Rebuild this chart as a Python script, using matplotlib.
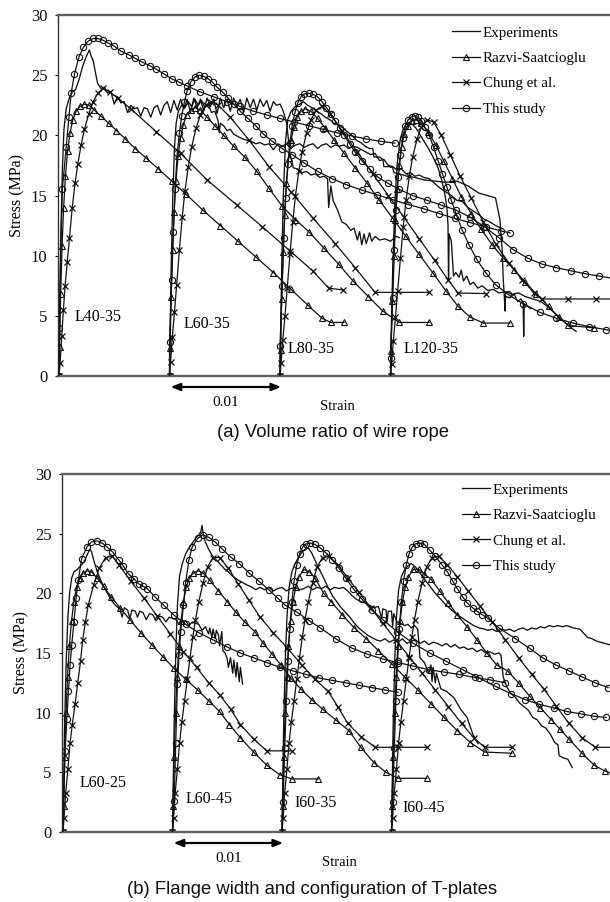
import numpy as np
import matplotlib
matplotlib.use("Agg")
import matplotlib.pyplot as plt
from matplotlib.lines import Line2D
import matplotlib.transforms as mtransforms

# ---------------- DATA (local strain in 1e-3, stress in MPa) ----------------
offsets_ms = [0, 10, 20, 30]
top_names = ["L40-35", "L60-35", "L80-35", "L120-35"]
bot_names = ["L60-25", "L60-45", "I60-35", "I60-45"]
yticks = [0, 5, 10, 15, 20, 25, 30]
legend_names = ["Experiments", "Razvi-Saatcioglu", "Chung et al.", "This study"]

# ---- panel (a) ----
L40_exp_x = [0, 0.05, 0.15, 0.3, 0.45, 0.65, 0.9, 1.2, 1.5, 1.8, 2.1, 2.4, 2.75, 2.9, 3.1, 3.3, 3.5, 3.8, 4.1, 4.4, 4.7, 5.0, 5.3, 5.6, 5.9, 6.2, 6.5, 6.8, 7.1, 7.4, 7.7, 8.0, 8.3, 8.6, 8.9, 9.2, 9.5, 9.8, 10.1, 10.4, 10.7, 11.0, 11.3, 11.6, 11.9, 12.2, 12.5, 12.8, 13.1, 13.4, 13.7, 14.0, 14.3, 14.6, 14.9, 15.2, 15.5, 15.8, 16.1, 16.4, 16.7, 17.0, 17.3, 17.6, 17.9, 18.2, 18.5, 18.8, 19.1, 19.4, 19.7, 20.0, 20.3, 20.6, 20.9, 21.2, 21.6, 22.0, 22.4, 22.8, 23.2, 23.6, 24.0, 24.3, 24.4, 24.6, 24.8, 25.2, 25.6, 26.0, 26.4, 26.7, 27.0, 27.2, 27.4, 27.6, 27.8, 28.1, 28.3, 28.6, 29.0, 29.5, 30.0, 30.5, 30.8]
L40_exp_y = [0, 4, 11, 17, 20.5, 22.2, 23.0, 23.6, 23.8, 24.6, 25.6, 26.4, 27.1, 26.6, 26.2, 25.2, 24.3, 23.9, 24.0, 23.5, 23.6, 22.6, 23.2, 22.7, 22.8, 21.9, 22.5, 22.2, 22.3, 21.6, 22.3, 22.2, 21.5, 22.3, 22.5, 21.7, 22.5, 22.8, 21.9, 22.9, 22.1, 23.0, 22.2, 23.0, 21.9, 23.1, 22.3, 23.0, 22.0, 23.1, 22.4, 23.0, 21.8, 23.1, 22.3, 23.0, 22.0, 23.1, 22.4, 23.0, 21.9, 23.1, 22.3, 23.0, 22.1, 23.0, 22.4, 22.9, 22.0, 22.8, 22.5, 22.6, 22.0, 21.0, 18.5, 17.3, 17.2, 16.9, 17.0, 16.7, 16.8, 16.5, 16.6, 16.4, 14.0, 15.8, 14.6, 13.8, 12.8, 12.6, 12.1, 12.3, 11.3, 12.0, 10.9, 11.8, 11.0, 11.9, 11.2, 11.6, 11.3, 11.4, 11.2, 11.6, 11.5]
L40_raz_x = [0, 0.05, 0.15, 0.28, 0.42, 0.58, 0.78, 1.0, 1.25, 1.55, 1.9, 2.3, 2.7, 3.2, 3.8, 4.5, 5.2, 6.0, 6.9, 7.9, 9.0, 10.2, 11.5, 13.0, 14.6, 16.2, 17.8, 19.4, 21.0, 22.5, 23.8, 24.6, 25.8]
L40_raz_y = [0, 2.4, 6.8, 10.8, 14.0, 16.6, 18.7, 20.2, 21.3, 22.0, 22.4, 22.6, 22.5, 22.1, 21.6, 21.0, 20.4, 19.7, 18.9, 18.1, 17.2, 16.2, 15.1, 13.8, 12.5, 11.2, 9.9, 8.6, 7.2, 5.9, 4.8, 4.45, 4.45]
L40_chu_x = [0, 0.1, 0.25, 0.4, 0.55, 0.75, 0.95, 1.2, 1.45, 1.7, 2.0, 2.3, 2.7, 3.1, 3.5, 4.0, 4.6, 5.3, 6.5, 8.8, 11.0, 13.4, 16.1, 18.4, 20.9, 23.0, 24.4, 25.7]
L40_chu_y = [0, 1.1, 3.3, 5.5, 7.5, 9.5, 11.5, 14.0, 16.0, 17.6, 19.2, 20.5, 21.8, 22.8, 23.5, 23.9, 23.6, 23.1, 22.2, 20.3, 18.5, 16.3, 14.2, 12.4, 10.4, 8.7, 7.3, 7.15]
L40_our_x = [0, 0.0, 0.3, 0.65, 0.9, 1.1, 1.4, 1.8, 2.2, 2.6, 3.1, 3.5, 4.0, 4.4, 5.0, 5.6, 6.3, 6.9, 7.5, 8.2, 8.8, 9.5, 10.2, 10.9, 11.6, 12.8, 14.0, 15.2, 16.4, 17.6, 18.8, 20.0, 21.3, 22.6, 23.9, 25.2, 26.5, 27.8, 29.1, 30.4]
L40_our_y = [0, 4.0, 15.5, 19.0, 21.5, 23.5, 25.1, 26.5, 27.3, 27.8, 28.05, 28.05, 27.9, 27.7, 27.4, 27.0, 26.7, 26.4, 26.1, 25.8, 25.5, 25.1, 24.7, 24.4, 24.1, 23.6, 23.2, 22.8, 22.4, 22.0, 21.7, 21.4, 21.1, 20.8, 20.5, 20.2, 19.95, 19.7, 19.5, 19.35]

L60a_exp_x = [0, 0.05, 0.15, 0.3, 0.45, 0.6, 0.8, 1.1, 1.4, 1.7, 2.0, 2.3, 2.6, 2.9, 3.2, 3.5, 3.8, 4.1, 4.4, 4.5, 4.6, 4.9, 5.2, 5.5, 5.8, 6.2, 6.6, 7.0, 7.4, 7.8, 8.2, 8.6, 9.0, 9.4, 9.8, 10.2, 10.6, 11.0, 11.4, 11.8, 12.2, 12.6, 13.0, 13.4, 13.8, 14.2, 14.6, 15.0, 15.4, 15.8, 16.2, 16.6, 17.0, 17.4, 17.8, 18.2, 18.6, 19.0, 19.4, 19.8, 20.2, 20.6, 21.0, 21.4, 21.8, 22.2, 22.6, 23.0, 23.5, 24.0, 24.5, 25.0, 25.5, 26.0, 26.5, 27.0, 27.5, 28.0, 28.5, 29.0, 29.5, 30.0]
L60a_exp_y = [0, 3, 9, 15, 19, 21, 22, 22.5, 22.3, 22.8, 22.4, 23.0, 22.5, 22.9, 22.3, 22.6, 21.9, 22.0, 21.2, 20.2, 21.0, 20.8, 20.4, 20.5, 20.1, 19.9, 19.7, 19.6, 19.5, 19.3, 19.4, 19.2, 19.3, 18.8, 19.3, 19.1, 19.3, 18.9, 19.2, 19.3, 19.0, 19.2, 19.3, 18.9, 19.2, 19.3, 19.0, 19.2, 19.1, 19.2, 18.9, 19.1, 19.0, 18.8, 18.6, 18.4, 18.5, 17.9, 18.0, 17.5, 17.4, 17.1, 17.2, 16.8, 16.9, 16.6, 16.7, 16.5, 16.4, 16.0, 15.6, 15.3, 15.0, 14.6, 14.5, 14.0, 13.7, 13.4, 13.0, 12.8, 12.5, 12.3]
L60a_raz_x = [0, 0.05, 0.15, 0.28, 0.42, 0.58, 0.78, 1.0, 1.25, 1.55, 1.9, 2.3, 2.8, 3.4, 4.1, 4.9, 5.8, 6.8, 7.9, 9.0, 10.2, 11.4, 12.6, 14.0, 15.3, 16.6, 18.0, 19.3, 20.8, 23.5]
L60a_raz_y = [0, 2.3, 6.6, 10.5, 13.6, 16.2, 18.3, 19.8, 20.9, 21.7, 22.1, 22.3, 22.1, 21.5, 20.8, 20.0, 19.1, 18.2, 17.0, 15.6, 14.1, 13.0, 12.0, 10.6, 9.3, 7.9, 6.6, 5.4, 4.45, 4.45]
L60a_chu_x = [0, 0.1, 0.25, 0.45, 0.65, 0.9, 1.15, 1.4, 1.7, 2.0, 2.4, 2.8, 3.3, 3.8, 4.4, 5.5, 7.2, 9.0, 11.0, 13.0, 15.0, 16.8, 18.6, 23.5]
L60a_chu_y = [0, 1.2, 3.2, 5.3, 7.6, 10.5, 13.2, 15.4, 17.4, 19.0, 20.6, 21.7, 22.5, 22.8, 22.5, 21.5, 19.6, 17.4, 15.3, 13.1, 11.0, 9.0, 6.95, 6.95]
L60a_our_x = [0, 0.0, 0.2, 0.35, 0.5, 0.7, 0.9, 1.1, 1.35, 1.6, 1.9, 2.3, 2.7, 3.1, 3.5, 3.9, 4.3, 4.8, 5.3, 5.8, 6.4, 7.1, 7.8, 8.5, 9.3, 10.2, 11.1, 12.2, 13.4, 14.7, 16.0, 17.4, 18.8, 20.2, 21.6, 23.0, 24.4, 25.8, 27.2, 28.6, 30.0, 30.8]
L60a_our_y = [0, 2.8, 8.0, 12.0, 15.5, 18.5, 20.2, 21.6, 22.8, 23.7, 24.4, 24.85, 25.0, 24.9, 24.7, 24.4, 24.0, 23.6, 23.1, 22.6, 22.0, 21.4, 20.8, 20.1, 19.5, 18.9, 18.4, 17.7, 17.0, 16.4, 15.9, 15.45, 15.05, 14.65, 14.25, 13.9, 13.5, 13.1, 12.75, 12.4, 12.05, 11.9]

L80_exp_x = [0, 0.05, 0.15, 0.3, 0.5, 0.7, 1.0, 1.4, 1.8, 2.1, 2.5, 2.9, 3.3, 3.7, 4.1, 4.5, 4.9, 5.3, 5.7, 6.1, 6.5, 6.9, 7.3, 7.7, 8.1, 8.4, 8.5, 9.0, 9.3, 9.4, 9.9, 10.2, 10.3, 10.8, 11.5, 12.2, 13.0, 14.0, 15.0, 16.0, 17.0, 18.0, 19.5, 19.9, 20.1, 20.2, 20.3, 20.35, 20.4, 20.8, 21.2, 21.5, 21.8, 22.0, 22.05, 22.1, 22.4, 22.7]
L80_exp_y = [0, 3, 9, 15, 19.5, 21.3, 22.0, 22.4, 22.6, 22.8, 22.5, 22.3, 22.0, 21.8, 21.5, 21.3, 21.0, 20.9, 20.6, 20.3, 20.0, 19.6, 19.4, 19.1, 18.9, 18.9, 18.2, 18.2, 18.0, 17.4, 17.4, 17.3, 16.9, 16.8, 16.6, 16.5, 16.3, 16.2, 16.1, 16.2, 15.8, 15.2, 14.8, 13.0, 10.5, 8.0, 6.6, 5.4, 6.6, 6.5, 6.8, 6.2, 6.4, 6.1, 3.3, 6.0, 5.8, 5.6]
L80_raz_x = [0, 0.05, 0.15, 0.28, 0.42, 0.58, 0.78, 1.0, 1.25, 1.55, 1.9, 2.3, 2.8, 3.4, 4.1, 4.9, 5.8, 6.8, 7.9, 9.0, 10.2, 11.4, 12.6, 13.8, 15.0, 16.1, 17.2, 18.4, 20.8]
L80_raz_y = [0, 2.2, 6.4, 10.3, 13.4, 16.0, 18.1, 19.6, 20.7, 21.5, 22.0, 22.2, 22.0, 21.4, 20.6, 19.6, 18.5, 17.3, 16.0, 14.6, 13.1, 11.6, 10.1, 8.6, 7.1, 5.8, 4.9, 4.4, 4.4]
L80_chu_x = [0, 0.1, 0.25, 0.45, 0.65, 0.9, 1.15, 1.4, 1.7, 2.0, 2.4, 2.8, 3.3, 3.8, 4.5, 5.6, 7.0, 8.4, 9.8, 11.2, 12.6, 14.0, 15.2, 16.1, 18.6]
L80_chu_y = [0, 1.1, 3.0, 5.0, 7.3, 10.1, 12.8, 15.0, 17.0, 18.6, 20.2, 21.3, 22.1, 22.4, 21.8, 20.4, 18.6, 16.8, 15.0, 13.2, 11.4, 9.6, 8.0, 6.9, 6.85]
L80_our_x = [0, 0.0, 0.2, 0.35, 0.5, 0.7, 0.9, 1.1, 1.35, 1.6, 1.9, 2.2, 2.6, 3.0, 3.4, 3.8, 4.2, 4.6, 5.0, 5.4, 5.8, 6.3, 6.8, 7.4, 8.1, 8.9, 9.8, 10.8, 12.0, 13.3, 14.6, 15.9, 17.2, 18.5, 19.8, 21.1, 22.4, 23.7, 25.0, 26.3, 27.6, 28.9, 30.2]
L80_our_y = [0, 2.5, 7.5, 11.5, 14.8, 17.6, 19.4, 20.8, 21.9, 22.7, 23.2, 23.45, 23.5, 23.4, 23.2, 22.8, 22.3, 21.8, 21.2, 20.6, 20.0, 19.3, 18.6, 17.9, 17.2, 16.5, 16.0, 15.5, 15.0, 14.6, 14.2, 13.8, 13.2, 12.4, 11.5, 10.5, 9.8, 9.3, 9.0, 8.75, 8.5, 8.3, 8.1]

L120_exp_x = [0, 0.05, 0.2, 0.4, 0.6, 0.85, 1.1, 1.4, 1.7, 2.0, 2.3, 2.7, 3.1, 3.5, 3.9, 4.3, 4.6, 4.9, 5.1, 5.2, 5.25, 5.3, 5.5, 5.7, 5.9, 6.2, 6.4, 6.6, 6.9, 7.2, 7.5, 7.9, 8.3, 8.8, 9.3, 9.8, 10.4, 11.0, 11.6, 12.2, 12.9, 13.6, 14.3, 15.0, 15.6, 16.2, 16.8]
L120_exp_y = [0, 3, 9, 14.5, 17.6, 19.5, 20.4, 20.9, 21.1, 20.9, 20.6, 20.0, 19.4, 18.8, 18.1, 17.3, 16.4, 15.2, 14.0, 12.6, 8.0, 11.8, 11.2, 8.3, 8.6, 8.2, 8.8, 7.9, 8.3, 7.6, 7.8, 7.3, 7.5, 7.1, 7.2, 6.9, 7.0, 6.8, 6.9, 6.6, 6.4, 6.2, 5.7, 5.1, 4.6, 4.1, 3.7]
L120_raz_x = [0, 0.05, 0.15, 0.28, 0.42, 0.58, 0.78, 1.0, 1.25, 1.55, 1.9, 2.3, 2.8, 3.4, 4.1, 4.8, 5.6, 6.4, 7.3, 8.2, 9.2, 10.2, 11.2, 12.2, 13.2, 14.3, 15.2, 16.1, 18.4]
L120_raz_y = [0, 2.1, 6.2, 10.0, 13.0, 15.5, 17.5, 19.0, 20.1, 20.8, 21.2, 21.3, 21.0, 20.3, 19.2, 17.9, 16.4, 14.9, 13.5, 12.2, 10.9, 9.8, 8.8, 7.8, 6.8, 5.8, 4.9, 4.2, 4.0]
L120_chu_x = [0, 0.1, 0.25, 0.45, 0.65, 0.9, 1.15, 1.4, 1.7, 2.0, 2.4, 2.8, 3.3, 3.9, 4.6, 5.4, 6.3, 7.3, 8.4, 9.5, 10.7, 11.9, 13.0, 13.7, 16.1, 18.6, 20.2]
L120_chu_y = [0, 1.0, 2.9, 4.9, 7.1, 9.8, 12.4, 14.6, 16.6, 18.2, 19.7, 20.7, 21.3, 21.1, 20.0, 18.4, 16.6, 14.8, 12.8, 11.0, 9.4, 8.0, 6.9, 6.4, 6.4, 6.4, 6.4]
L120_our_x = [0, 0.0, 0.2, 0.35, 0.5, 0.7, 0.9, 1.1, 1.35, 1.6, 1.9, 2.2, 2.5, 2.8, 3.1, 3.5, 3.9, 4.3, 4.7, 5.1, 5.5, 6.0, 6.5, 7.1, 7.8, 8.6, 9.5, 10.6, 12.0, 13.5, 15.0, 16.5, 18.0, 19.5, 20.5]
L120_our_y = [0, 1.5, 6.5, 10.5, 13.8, 16.5, 18.4, 19.8, 20.8, 21.3, 21.55, 21.6, 21.5, 21.2, 20.7, 20.0, 19.0, 17.9, 16.8, 15.7, 14.6, 13.3, 12.1, 10.9, 9.7, 8.6, 7.6, 6.8, 6.0, 5.3, 4.8, 4.4, 4.1, 3.85, 3.7]

# ---- panel (b) ----
L25_exp_x = [0, 0.05, 0.15, 0.3, 0.45, 0.6, 0.8, 1.0, 1.3, 1.6, 1.9, 2.2, 2.45, 2.6, 2.8, 3.1, 3.4, 3.7, 4.0, 4.3, 4.6, 4.9, 5.2, 5.4, 5.6, 5.9, 6.1, 6.3, 6.6, 6.8, 7.0, 7.3, 7.6, 7.9, 8.2, 8.5, 8.8, 9.1, 9.4, 9.7, 10.0, 10.3, 10.6, 10.9, 11.2, 11.5, 11.8, 12.1, 12.4, 12.7, 13.0, 13.3, 13.4, 13.6, 13.7, 13.9, 14.0, 14.2, 14.3, 14.5, 14.6, 14.8, 15.0, 15.1, 15.3, 15.5, 15.6, 15.8, 15.9, 16.1, 16.2, 16.4]
L25_exp_y = [0, 3, 9, 14.5, 18, 20, 21.3, 21.8, 22.0, 22.3, 22.6, 23.2, 23.7, 23.5, 22.8, 21.9, 21.2, 20.6, 20.1, 19.6, 19.2, 18.9, 18.7, 18.0, 18.8, 18.6, 17.9, 18.6, 18.5, 18.0, 18.5, 18.4, 17.8, 18.3, 18.2, 17.7, 18.1, 18.0, 17.6, 18.0, 17.9, 17.8, 17.4, 17.7, 17.7, 17.3, 17.6, 17.5, 17.4, 16.9, 17.2, 16.6, 17.1, 16.3, 17.0, 16.2, 16.9, 16.5, 15.6, 16.8, 15.2, 15.0, 14.5, 13.8, 14.6, 13.3, 14.4, 13.0, 14.2, 12.6, 13.8, 12.4]
L25_raz_x = [0, 0.05, 0.15, 0.28, 0.42, 0.58, 0.78, 1.0, 1.25, 1.55, 1.85, 2.2, 2.6, 3.1, 3.7, 4.4, 5.2, 6.1, 7.1, 8.1, 9.1, 10.1, 11.2, 12.3, 13.3, 14.3, 15.2, 16.2, 17.4, 18.6, 19.8, 20.9, 23.3]
L25_raz_y = [0, 2.2, 6.3, 10.0, 13.0, 15.6, 17.7, 19.3, 20.5, 21.3, 21.7, 21.9, 21.8, 21.3, 20.6, 19.7, 18.8, 17.8, 16.7, 15.7, 14.7, 13.75, 12.8, 11.9, 11.0, 10.1, 9.0, 7.9, 6.7, 5.6, 4.8, 4.45, 4.45]
L25_chu_x = [0, 0.1, 0.25, 0.45, 0.65, 0.85, 1.1, 1.35, 1.6, 1.8, 2.05, 2.3, 2.8, 3.3, 3.9, 4.5, 5.1, 6.2, 7.4, 8.6, 9.8, 11.0, 12.2, 13.3, 14.3, 15.3, 16.2, 17.4, 18.6, 20.9]
L25_chu_y = [0, 1.2, 3.3, 5.3, 7.5, 9.0, 10.7, 12.5, 14.3, 16.1, 17.6, 19.0, 20.7, 22.1, 23.0, 23.1, 22.4, 21.0, 19.6, 18.1, 16.6, 15.1, 13.8, 12.5, 11.5, 10.3, 9.0, 7.8, 6.8, 6.8]
L25_our_x = [0, 0.06, 0.2, 0.35, 0.5, 0.65, 0.8, 1.0, 1.2, 1.4, 1.7, 2.2, 2.6, 3.1, 3.6, 4.0, 4.5, 5.1, 5.5, 6.0, 6.5, 6.9, 7.3, 7.7, 8.4, 9.2, 10.1, 11.2, 12.4, 13.7, 15.0, 16.2, 17.4, 18.6, 19.8, 21.0, 22.2, 23.4, 24.6, 25.8, 27.0, 28.2, 29.4, 30.6]
L25_our_y = [0, 2.8, 6.8, 9.5, 11.8, 14.0, 15.7, 17.6, 19.6, 21.1, 22.9, 23.9, 24.3, 24.4, 24.2, 23.9, 23.5, 22.8, 22.3, 21.6, 21.2, 20.8, 20.6, 20.4, 19.7, 19.0, 18.2, 17.4, 16.7, 16.1, 15.5, 15.0, 14.6, 14.2, 13.8, 13.5, 13.2, 12.9, 12.7, 12.5, 12.3, 12.1, 11.9, 11.7]

L45_exp_x = [0, 0.05, 0.15, 0.3, 0.45, 0.65, 0.9, 1.2, 1.5, 1.8, 2.1, 2.4, 2.6, 2.7, 2.8, 3.0, 3.3, 3.6, 3.9, 4.2, 4.5, 4.8, 5.1, 5.4, 5.7, 6.0, 6.4, 6.8, 7.2, 7.6, 8.0, 8.4, 8.8, 9.2, 9.6, 10.0, 10.4, 10.8, 11.2, 11.6, 12.0, 12.4, 12.8, 13.2, 13.6, 14.0, 14.4, 14.8, 15.2, 15.6, 16.0, 16.4, 16.8, 17.2, 17.6, 18.0, 18.4, 18.8, 19.1, 19.2, 19.5, 19.6, 19.7, 20.0, 20.1, 20.2, 20.5, 20.8, 21.2, 21.5, 21.8, 22.1, 22.4, 22.6, 23.0, 23.4, 23.6, 23.7, 23.8, 24.0, 24.1, 24.5, 25.0, 25.7, 26.3, 26.9, 27.4, 27.9]
L45_exp_y = [0, 3, 9, 15, 19, 21.5, 22.5, 23.3, 23.8, 24.2, 24.6, 24.9, 25.2, 25.7, 25.0, 24.3, 23.7, 23.2, 22.9, 22.6, 22.3, 22.0, 21.8, 21.5, 21.3, 21.1, 20.9, 20.7, 20.55, 20.3, 20.5, 20.3, 20.5, 20.2, 20.4, 20.5, 20.2, 20.4, 20.5, 20.3, 20.4, 20.6, 20.3, 20.5, 20.4, 20.6, 20.3, 20.5, 20.4, 20.5, 20.2, 19.8, 19.5, 19.3, 19.2, 19.0, 18.8, 18.9, 17.9, 18.7, 18.6, 17.6, 18.5, 18.5, 17.2, 18.3, 17.6, 17.5, 17.3, 17.4, 17.1, 17.3, 17.0, 14.6, 14.2, 13.3, 14.0, 12.6, 13.8, 12.5, 13.3, 12.0, 11.8, 11.25, 10.3, 9.6, 8.25, 7.4]
L45_raz_x = [0, 0.05, 0.15, 0.28, 0.42, 0.58, 0.78, 1.0, 1.25, 1.55, 1.9, 2.3, 2.8, 3.4, 4.2, 5.0, 5.8, 6.6, 7.5, 8.3, 9.1, 9.9, 10.8, 11.7, 12.7, 13.7, 14.9, 16.1, 17.2, 18.4, 19.5, 20.6, 23.2]
L45_raz_y = [0, 2.2, 6.3, 10.0, 13.0, 15.6, 17.7, 19.3, 20.5, 21.3, 21.7, 21.9, 21.7, 21.1, 20.2, 19.3, 18.4, 17.6, 16.8, 15.8, 14.9, 14.0, 12.9, 12.0, 11.1, 10.3, 9.4, 8.5, 7.1, 5.8, 5.0, 4.5, 4.5]
L45_chu_x = [0, 0.1, 0.25, 0.45, 0.65, 0.85, 1.1, 1.35, 1.6, 1.85, 2.1, 2.4, 2.8, 3.2, 3.7, 4.3, 5.1, 6.0, 7.0, 8.0, 9.2, 10.5, 11.8, 13.0, 14.2, 15.1, 16.0, 17.2, 18.5, 20.6, 23.2]
L45_chu_y = [0, 1.2, 3.3, 5.3, 7.5, 9.2, 11.0, 12.8, 14.6, 16.3, 17.8, 19.3, 20.9, 22.2, 23.0, 23.0, 22.1, 20.8, 19.4, 18.0, 16.7, 15.4, 14.0, 12.8, 11.8, 10.5, 9.1, 8.0, 7.1, 7.1, 7.1]
L45_our_x = [0, 0.15, 0.3, 0.45, 0.6, 0.75, 1.0, 1.2, 1.5, 1.8, 2.3, 2.75, 3.3, 3.9, 4.5, 5.3, 6.1, 7.0, 7.9, 8.8, 9.6, 10.3, 11.4, 12.5, 13.5, 14.9, 16.4, 17.8, 19.2, 20.6, 22.0, 23.4, 24.8, 26.2, 27.6, 29.0, 30.4]
L45_our_y = [0, 2.6, 7.5, 12.4, 14.8, 16.8, 19.0, 20.9, 22.8, 23.9, 24.6, 24.9, 24.7, 24.3, 23.75, 23.05, 22.5, 21.7, 21.0, 20.3, 19.6, 19.0, 18.4, 17.7, 17.1, 16.2, 15.4, 14.9, 14.5, 14.2, 13.9, 13.6, 13.4, 13.2, 12.95, 12.75, 12.5]

I35_exp_x = [0, 0.05, 0.15, 0.3, 0.45, 0.65, 0.9, 1.2, 1.5, 1.8, 2.1, 2.4, 2.7, 3.0, 3.4, 3.8, 4.2, 4.6, 5.0, 5.4, 5.8, 6.2, 6.6, 7.0, 7.4, 7.8, 8.2, 8.6, 9.0, 9.4, 9.8, 10.2, 10.6, 11.0, 11.4, 11.8, 12.2, 12.6, 13.0, 13.4, 13.8, 14.2, 14.6, 15.0, 15.4, 15.8, 16.2, 16.6, 17.0, 17.4, 17.8, 18.2, 18.6, 19.0, 19.4, 19.8, 20.0, 20.1, 20.2, 20.5, 20.9, 21.3, 21.7, 22.1, 22.5, 22.9, 23.3, 23.7, 24.1, 24.5, 24.9, 25.2, 25.3, 25.7, 26.1, 26.5]
I35_exp_y = [0, 3, 9, 14.5, 18, 20.5, 21.8, 22.5, 23.0, 23.4, 23.7, 23.8, 23.4, 22.8, 22.0, 21.3, 20.5, 19.8, 19.3, 18.8, 18.4, 18.0, 17.5, 17.1, 16.8, 16.5, 16.3, 16.1, 16.0, 16.2, 15.9, 16.1, 15.9, 16.2, 15.8, 16.0, 16.1, 15.8, 16.0, 15.7, 15.9, 15.8, 15.6, 15.8, 15.5, 15.7, 15.4, 15.5, 15.3, 15.4, 15.1, 15.3, 15.0, 15.1, 14.9, 15.0, 14.8, 13.8, 13.0, 12.2, 11.6, 11.3, 10.8, 10.5, 10.2, 9.6, 9.4, 8.9, 8.7, 8.2, 7.5, 7.3, 6.4, 6.2, 6.1, 5.4]
I35_raz_x = [0, 0.05, 0.15, 0.28, 0.42, 0.58, 0.78, 1.0, 1.25, 1.55, 2.0, 2.5, 3.0, 3.8, 4.5, 5.5, 6.6, 7.7, 8.8, 10.0, 11.2, 12.4, 13.6, 14.8, 16.0, 17.2, 18.5, 21.0]
I35_raz_y = [0, 2.2, 6.3, 10.0, 13.0, 15.6, 17.7, 19.3, 20.5, 21.4, 22.0, 21.8, 21.3, 20.0, 19.3, 18.2, 17.1, 16.2, 15.2, 14.1, 13.0, 11.9, 10.75, 9.6, 8.5, 7.5, 6.7, 6.6]
I35_chu_x = [0, 0.1, 0.25, 0.45, 0.65, 0.85, 1.1, 1.35, 1.6, 1.85, 2.1, 2.4, 2.8, 3.2, 3.7, 4.3, 5.1, 6.0, 7.0, 8.1, 9.2, 10.4, 11.6, 12.8, 14.0, 15.2, 16.4, 17.5, 18.5, 21.0]
I35_chu_y = [0, 1.2, 3.3, 5.3, 7.5, 9.2, 11.0, 12.8, 14.6, 16.3, 17.8, 19.3, 20.9, 22.2, 23.0, 23.1, 22.4, 21.3, 20.1, 18.8, 17.5, 16.1, 14.7, 13.3, 11.9, 10.5, 9.1, 7.9, 7.1, 7.1]
I35_our_x = [0, 0.1, 0.25, 0.4, 0.55, 0.7, 0.9, 1.1, 1.35, 1.6, 1.9, 2.2, 2.6, 3.0, 3.5, 4.0, 4.6, 5.2, 5.8, 6.5, 7.3, 8.2, 9.2, 10.5, 12.0, 13.5, 15.0, 16.5, 18.0, 19.5, 20.9, 22.2, 23.5, 24.8, 26.0, 27.3, 28.5, 29.6]
I35_our_y = [0, 2.5, 7.0, 11.0, 14.3, 17.0, 19.3, 21.0, 22.4, 23.3, 23.9, 24.15, 24.2, 24.1, 23.8, 23.4, 22.8, 22.1, 21.3, 20.4, 19.5, 18.6, 17.8, 16.8, 15.8, 15.0, 14.3, 13.6, 12.9, 12.2, 11.6, 11.1, 10.7, 10.4, 10.1, 9.9, 9.7, 9.6]

I45_exp_x = [0, 0.05, 0.15, 0.3, 0.45, 0.65, 0.9, 1.2, 1.5, 1.8, 2.2, 2.6, 3.0, 3.5, 4.0, 4.5, 5.0, 5.5, 6.0, 6.5, 7.0, 7.5, 8.0, 8.5, 8.8, 9.2, 9.6, 10.0, 10.4, 10.8, 11.2, 11.6, 12.0, 12.4, 12.8, 13.2, 13.6, 14.0, 14.4, 14.8, 15.2, 15.6, 16.0, 16.6, 17.2, 17.6, 17.9, 18.3, 18.7, 19.1, 19.5, 19.9]
I45_exp_y = [0, 3, 9, 14.5, 18, 20.3, 21.4, 22.0, 22.3, 22.5, 22.2, 21.7, 21.2, 20.6, 20.0, 19.5, 19.0, 18.6, 18.2, 17.9, 17.6, 17.3, 17.1, 17.0, 16.9, 17.0, 16.8, 17.0, 16.9, 17.0, 16.8, 17.0, 17.1, 16.9, 17.1, 17.0, 17.2, 17.1, 17.3, 17.2, 17.3, 17.2, 17.3, 17.1, 17.0, 16.6, 16.3, 16.2, 16.0, 15.9, 15.8, 15.7]
I45_raz_x = [0, 0.05, 0.15, 0.28, 0.42, 0.58, 0.78, 1.0, 1.25, 1.55, 2.0, 2.5, 3.0, 3.6, 4.4, 5.2, 6.0, 6.9, 7.8, 8.7, 9.6, 10.6, 11.6, 12.6, 13.6, 14.6, 15.4, 16.2, 17.4, 18.5, 19.5, 20.2]
I45_raz_y = [0, 2.2, 6.3, 10.0, 13.0, 15.6, 17.7, 19.3, 20.5, 21.4, 22.0, 22.0, 21.6, 21.2, 20.2, 19.2, 18.2, 17.2, 16.1, 15.0, 14.0, 13.5, 12.5, 11.4, 10.4, 9.4, 8.6, 7.8, 6.6, 5.6, 5.1, 4.9]
I45_chu_x = [0, 0.1, 0.25, 0.45, 0.65, 0.85, 1.1, 1.35, 1.6, 1.85, 2.1, 2.4, 2.8, 3.2, 3.7, 4.3, 5.1, 6.0, 7.0, 8.1, 9.2, 10.4, 11.6, 12.8, 13.9, 15.0, 16.2, 17.4, 18.6, 20.2]
I45_chu_y = [0, 1.2, 3.3, 5.3, 7.5, 9.2, 11.0, 12.8, 14.6, 16.3, 17.8, 19.3, 20.9, 22.2, 23.0, 23.1, 22.4, 21.4, 20.2, 18.9, 17.6, 16.1, 14.6, 13.2, 12.0, 10.6, 9.1, 7.9, 7.1, 7.1]
I45_our_x = [0, 0.1, 0.25, 0.4, 0.55, 0.7, 0.9, 1.1, 1.35, 1.6, 1.9, 2.2, 2.6, 3.0, 3.5, 4.0, 4.6, 5.1, 5.6, 6.0, 6.5, 6.9, 7.4, 7.8, 8.3, 8.8, 9.8, 11.3, 12.6, 13.8, 15.0, 16.2, 17.4, 18.6, 19.8]
I45_our_y = [0, 2.5, 7.0, 11.0, 14.3, 17.0, 19.3, 21.0, 22.4, 23.3, 23.9, 24.15, 24.2, 24.1, 23.6, 23.1, 22.4, 21.8, 21.0, 20.4, 19.7, 19.2, 18.8, 18.5, 18.2, 17.9, 17.1, 16.2, 15.4, 14.6, 14.0, 13.5, 13.0, 12.5, 12.1]

top_specimens = [
    (L40_exp_x, L40_exp_y, L40_raz_x, L40_raz_y, L40_chu_x, L40_chu_y, L40_our_x, L40_our_y),
    (L60a_exp_x, L60a_exp_y, L60a_raz_x, L60a_raz_y, L60a_chu_x, L60a_chu_y, L60a_our_x, L60a_our_y),
    (L80_exp_x, L80_exp_y, L80_raz_x, L80_raz_y, L80_chu_x, L80_chu_y, L80_our_x, L80_our_y),
    (L120_exp_x, L120_exp_y, L120_raz_x, L120_raz_y, L120_chu_x, L120_chu_y, L120_our_x, L120_our_y),
]
bot_specimens = [
    (L25_exp_x, L25_exp_y, L25_raz_x, L25_raz_y, L25_chu_x, L25_chu_y, L25_our_x, L25_our_y),
    (L45_exp_x, L45_exp_y, L45_raz_x, L45_raz_y, L45_chu_x, L45_chu_y, L45_our_x, L45_our_y),
    (I35_exp_x, I35_exp_y, I35_raz_x, I35_raz_y, I35_chu_x, I35_chu_y, I35_our_x, I35_our_y),
    (I45_exp_x, I45_exp_y, I45_raz_x, I45_raz_y, I45_chu_x, I45_chu_y, I45_our_x, I45_our_y),
]

# ---------------- STYLE ----------------
SERIF = ["Liberation Serif", "DejaVu Serif"]
SANS = ["Liberation Sans", "DejaVu Sans"]
INK = "#111111"
LW = 0.9
styles = [
    dict(color=INK, lw=0.95, marker=None),
    dict(color=INK, lw=LW, marker="^", ms=4.3, mfc="none", mec=INK, mew=0.8),
    dict(color=INK, lw=LW, marker="x", ms=4.5, mec=INK, mew=0.9),
    dict(color=INK, lw=LW, marker="o", ms=4.5, mfc="none", mec=INK, mew=0.8),
]

fig = plt.figure(figsize=(6.10, 9.02), dpi=100)
W, H = 610.0, 902.0

def make_axes(left_px, top_px, bottom_px):
    return fig.add_axes([left_px / W, 1 - bottom_px / H, (W - left_px) / W, (bottom_px - top_px) / H])

def draw_panel(ax, specimens, names, label_pos, xmax_ms, legend_xy, caption, caption_xy):
    for k, spec in enumerate(specimens):
        off = offsets_ms[k]
        for s in [1, 2, 3, 0]:
            xs = (np.array(spec[2 * s]) + off) * 1e-3
            ys = np.array(spec[2 * s + 1])
            ax.plot(xs, ys, **styles[s], zorder=3 if s == 0 else 2)
        ax.text((off + label_pos[k][0]) * 1e-3, label_pos[k][1], names[k],
                family=SERIF, fontsize=11.5, ha="left", va="center", zorder=5)
    ax.set_xlim(-0.00009, xmax_ms * 1e-3)
    ax.set_ylim(0, 30)
    ax.set_yticks(yticks)
    ax.set_yticklabels([str(v) for v in yticks], family=SERIF, fontsize=12)
    ax.set_xticks([])
    ax.tick_params(axis="y", direction="out", length=2.5, width=0.8, pad=5, colors=INK)
    ax.spines["right"].set_visible(False)
    for sp in ("top", "bottom"):
        ax.spines[sp].set_color("#606060")
        ax.spines[sp].set_linewidth(1.7)
    ax.spines["left"].set_color("#333333")
    ax.spines["left"].set_linewidth(1.0)
    ax.set_ylabel("Stress (MPa)", family=SERIF, fontsize=11.5, labelpad=4)
    trans = mtransforms.blended_transform_factory(ax.transData, ax.transAxes)
    h_ax = ax.get_position().height * H
    ax.annotate("", xy=(0.0201, -11 / h_ax), xytext=(0.0101, -11 / h_ax),
                xycoords=trans, textcoords=trans, annotation_clip=False,
                arrowprops=dict(arrowstyle="<|-|>,head_length=0.55,head_width=0.22",
                                lw=1.6, color="black", shrinkA=0, shrinkB=0))
    ax.text(0.0151, -27 / h_ax, "0.01", transform=trans, family=SERIF,
            fontsize=11, ha="center", va="center")
    ax.text(0.0252, -30 / h_ax, "Strain", transform=trans, family=SERIF,
            fontsize=10.5, ha="center", va="center")
    handles = [Line2D([], [], **st) for st in styles]
    ax.legend(handles, legend_names, loc="upper left",
              bbox_to_anchor=(legend_xy[0] / W, 1 - legend_xy[1] / H),
              bbox_transform=fig.transFigure, frameon=False, borderpad=0,
              borderaxespad=0, handlelength=1.85, handletextpad=0.2,
              labelspacing=0.8, numpoints=1, prop=dict(family=SERIF, size=10.8))
    fig.text(caption_xy[0] / W, 1 - caption_xy[1] / H, caption, family=SANS,
             fontsize=13.3, ha="center", va="center", color="#111111")

ax_a = make_axes(58, 15, 376)
draw_panel(ax_a, top_specimens, top_names,
           [(1.4, 4.9), (1.3, 4.3), (0.7, 2.25), (1.2, 2.25)],
           49.86, (452, 26), "(a) Volume ratio of wire rope", (333, 433))

ax_b = make_axes(62, 474, 832)
draw_panel(ax_b, bot_specimens, bot_names,
           [(1.5, 4.1), (1.2, 2.8), (1.1, 2.4), (1.0, 2.0)],
           49.95, (462, 483), "(b) Flange width and configuration of T-plates", (312, 890))

fig.savefig("out.png", dpi=100)
